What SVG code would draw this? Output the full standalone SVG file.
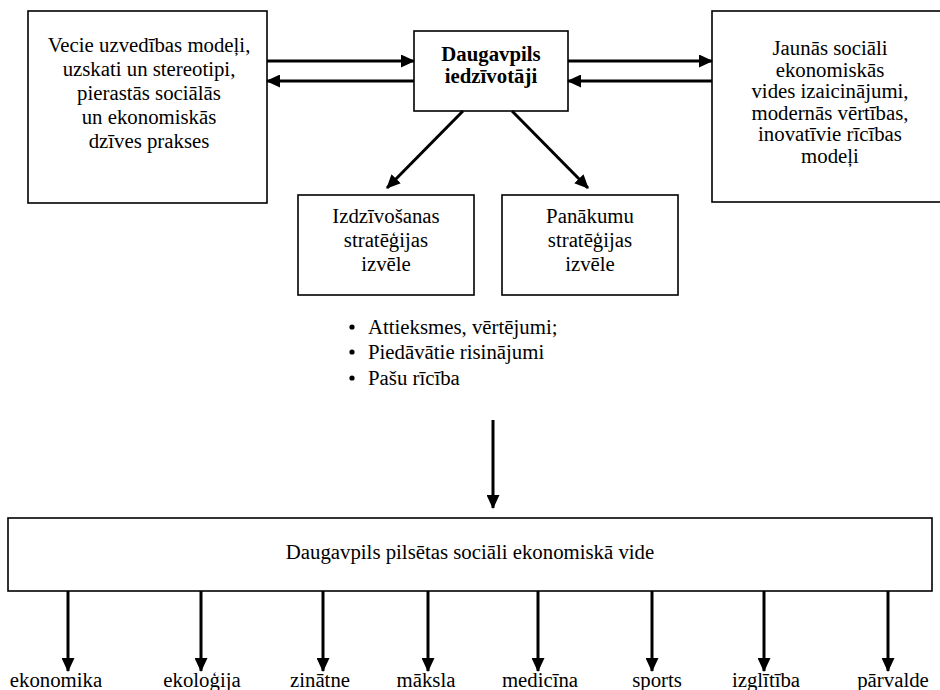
<svg xmlns="http://www.w3.org/2000/svg" width="940" height="690" viewBox="0 0 940 690">
<defs>
<style>
.box{fill:#fff;stroke:#000;stroke-width:1.6}
text{font-family:"Liberation Serif","Times New Roman",serif;font-size:20.8px;fill:#000;text-anchor:middle}
.b{font-weight:bold}
.l{text-anchor:start}
.c line{stroke:#000;stroke-width:3;marker-end:url(#ah)}
</style>
<marker id="ah" markerUnits="userSpaceOnUse" markerWidth="14" markerHeight="13" refX="13" refY="6.5" orient="auto">
<path d="M0,0 L14,6.5 L0,13 z" fill="#000"/>
</marker>
</defs>
<rect width="940" height="690" fill="#fff"/>
<g id="old">
<rect class="box" x="28" y="11" width="239" height="192"/>
<text x="149" y="52">Vecie uzvedības modeļi,</text>
<text x="149" y="76">uzskati un stereotipi,</text>
<text x="149" y="100">pierastās sociālās</text>
<text x="149" y="124">un ekonomiskās</text>
<text x="149" y="148">dzīves prakses</text>
</g>
<g id="residents">
<rect class="box" x="414" y="31" width="154" height="80"/>
<text class="b" x="491" y="61">Daugavpils</text>
<text class="b" x="491" y="83">iedzīvotāji</text>
</g>
<g id="new">
<rect class="box" x="712" y="11" width="240" height="191"/>
<text x="830" y="55">Jaunās sociāli</text>
<text x="830" y="77">ekonomiskās</text>
<text x="830" y="98">vides izaicinājumi,</text>
<text x="830" y="120">modernās vērtības,</text>
<text x="830" y="141">inovatīvie rīcības</text>
<text x="830" y="163">modeļi</text>
</g>
<g id="survival">
<rect class="box" x="298" y="195" width="176" height="100"/>
<text x="386" y="223">Izdzīvošanas</text>
<text x="386" y="247">stratēģijas</text>
<text x="386" y="271">izvēle</text>
</g>
<g id="success">
<rect class="box" x="502" y="195" width="176" height="100"/>
<text x="590" y="223">Panākumu</text>
<text x="590" y="247">stratēģijas</text>
<text x="590" y="271">izvēle</text>
</g>
<g id="bullets">
<circle cx="352" cy="327" r="2.6"/>
<circle cx="352" cy="352" r="2.6"/>
<circle cx="352" cy="378" r="2.6"/>
<text class="l" x="368" y="334">Attieksmes, vērtējumi;</text>
<text class="l" x="368" y="359">Piedāvātie risinājumi</text>
<text class="l" x="368" y="385">Pašu rīcība</text>
</g>
<g id="environment">
<rect class="box" x="8" y="518" width="924" height="73"/>
<text x="470" y="559">Daugavpils pilsētas sociāli ekonomiskā vide</text>
</g>
<g id="spheres">
<text x="56" y="687">ekonomika</text>
<text x="202" y="687">ekoloģija</text>
<text x="320" y="687">zinātne</text>
<text x="426" y="687">māksla</text>
<text x="540" y="687">medicīna</text>
<text x="657" y="687">sports</text>
<text x="766" y="687">izglītība</text>
<text x="893" y="687">pārvalde</text>
</g>
<g class="c" id="connectors">
<line x1="267" y1="61" x2="414" y2="61"/>
<line x1="414" y1="81" x2="267" y2="81"/>
<line x1="568" y1="61" x2="712" y2="61"/>
<line x1="712" y1="81" x2="568" y2="81"/>
<line x1="463" y1="111" x2="387" y2="188"/>
<line x1="512" y1="111" x2="588" y2="188"/>
<line x1="493" y1="420" x2="493" y2="508"/>
<line x1="68" y1="591" x2="68" y2="671"/>
<line x1="201" y1="591" x2="201" y2="671"/>
<line x1="323" y1="591" x2="323" y2="671"/>
<line x1="428" y1="591" x2="428" y2="671"/>
<line x1="538" y1="591" x2="538" y2="671"/>
<line x1="652" y1="591" x2="652" y2="671"/>
<line x1="764" y1="591" x2="764" y2="671"/>
<line x1="888" y1="591" x2="888" y2="671"/>
</g>
</svg>
